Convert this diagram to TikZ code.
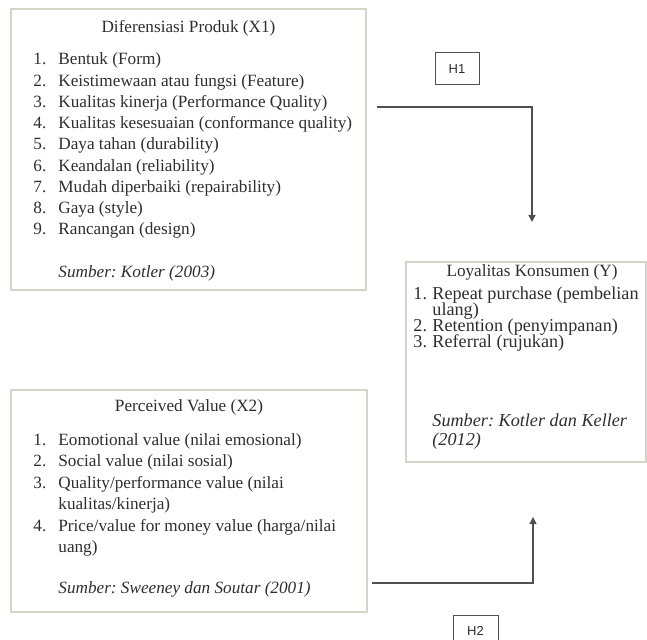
\documentclass[tikz,border=0pt]{standalone}
\usepackage{fontspec}
\setmainfont{Liberation Serif}
\setsansfont{Liberation Sans}
\usetikzlibrary{arrows.meta}
\definecolor{panelline}{HTML}{D3D6C6}
\definecolor{inkgrey}{HTML}{2E2E2E}
\definecolor{wiregrey}{HTML}{505050}
\tikzset{
  panel/.style={draw=panelline, line width=0.8pt, inner sep=0pt},
  hbox/.style={draw=wiregrey, line width=0.5pt, inner sep=0pt, font=\sffamily\fontsize{6.5}{7}\selectfont, text=inkgrey},
  txt/.style={anchor=base west, inner sep=0pt, text=inkgrey, font=\fontsize{8.6}{9}\selectfont},
  ytxt/.style={txt, font=\fontsize{9.1}{9}\selectfont},
  ttl/.style={anchor=base, inner sep=0pt, text=inkgrey, font=\fontsize{8.6}{9}\selectfont},
  link/.style={draw=wiregrey, line width=0.7pt, -{Triangle[length=3.5pt,width=3.5pt]}}
}

\begin{document}
\frenchspacing
\begin{tikzpicture}[x=0.5pt,y=-0.5pt]
  \useasboundingbox (0,0) rectangle (647,640);
  %%%%% START %%%%%
  % boxes
  \node[panel, minimum width=177.5pt, minimum height=140.5pt] (x1box) at (188.5,149.5) {};
  \node[panel, minimum width=120pt, minimum height=100pt] (ybox) at (526,362) {};
  \node[panel, minimum width=178pt, minimum height=111pt] (x2box) at (189,501) {};
  \node[hbox, minimum width=22pt, minimum height=16pt] (h1) at (457,69) {H1};
  \node[hbox, minimum width=22.5pt, minimum height=16pt] (h2) at (475.5,631) {H2};

  % Diferensiasi Produk
  \node[ttl] (x1title) at (188.5,33) {Diferensiasi Produk (X1)};
  \foreach \n/\t in {1/Bentuk (Form),
                     2/Keistimewaan atau fungsi (Feature),
                     3/Kualitas kinerja (Performance Quality),
                     4/Kualitas kesesuaian (conformance quality),
                     5/Daya tahan (durability),
                     6/Keandalan (reliability),
                     7/Mudah diperbaiki (repairability),
                     8/Gaya (style),
                     9/Rancangan (design)}{
    \node[txt] (x1num\n) at (33,{65+21.25*(\n-1)}) {\n.};
    \node[txt] (x1item\n) at (58,{65+21.25*(\n-1)}) {\t};
  }
  \node[txt] (x1src) at (58,278) {\textit{Sumber: Kotler (2003)}};

  % Loyalitas Konsumen
  \node[ttl] (ytitle) at (532,277) {Loyalitas Konsumen (Y)};
  \node[ytxt] (ynum1) at (413,300) {1.};
  \node[ytxt] (yitem1) at (432,300) {Repeat purchase (pembelian};
  \node[ytxt] (yitem1b) at (432,316) {ulang)};
  \node[ytxt] (ynum2) at (413,332) {2.};
  \node[ytxt] (yitem2) at (432,332) {Retention (penyimpanan)};
  \node[ytxt] (ynum3) at (413,348) {3.};
  \node[ytxt] (yitem3) at (432,348) {Referral (rujukan)};
  \node[ytxt] (ysrc) at (432,427) {\textit{Sumber: Kotler dan Keller}};
  \node[ytxt] (ysrcb) at (432,445) {\textit{(2012)}};

  % Perceived Value
  \node[ttl] (x2title) at (189,412) {Perceived Value (X2)};
  \node[txt] (x2num1) at (33,445) {1.};
  \node[txt] (x2item1) at (58,445) {Eomotional value (nilai emosional)};
  \node[txt] (x2num2) at (33,466.5) {2.};
  \node[txt] (x2item2) at (58,466.5) {Social value (nilai sosial)};
  \node[txt] (x2num3) at (33,488) {3.};
  \node[txt] (x2item3) at (58,488) {Quality/performance value (nilai};
  \node[txt] (x2item3b) at (58,509.5) {kualitas/kinerja)};
  \node[txt] (x2num4) at (33,531) {4.};
  \node[txt] (x2item4) at (58,531) {Price/value for money value (harga/nilai};
  \node[txt] (x2item4b) at (58,552.5) {uang)};
  \node[txt] (x2src) at (58,593) {\textit{Sumber: Sweeney dan Soutar (2001)}};

  % connectors
  \coordinate (h1start) at (377,107);
  \coordinate (h1end) at (532,222);
  \draw[link] (h1start) -| (h1end);
  \coordinate (h2start) at (372,583);
  \coordinate (h2end) at (533,517);
  \draw[link] (h2start) -| (h2end);
  %%%%% END %%%%%
\end{tikzpicture}
\end{document}
